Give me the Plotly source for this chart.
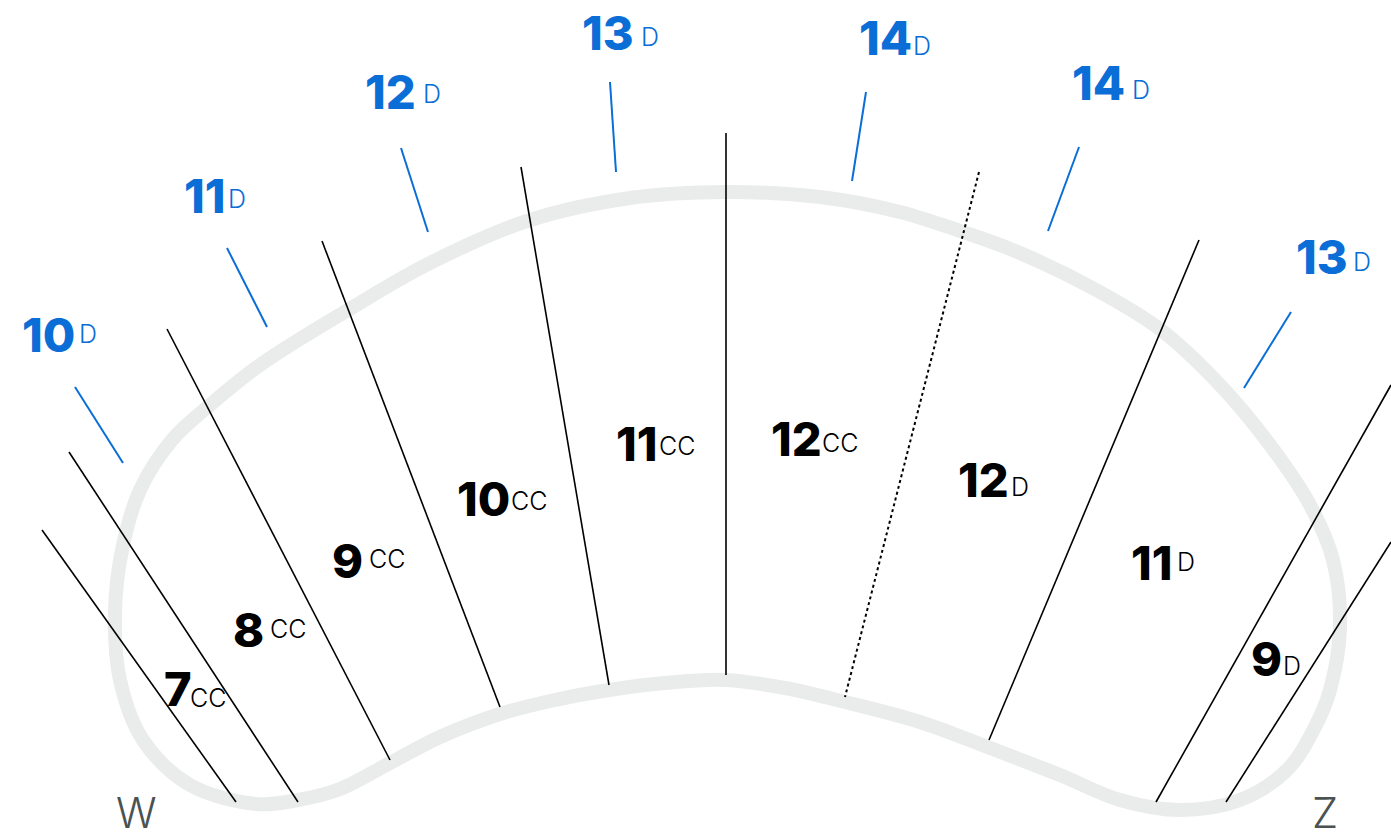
import plotly.graph_objects as go

W, H = 1391, 837

# Arch band centre-line (closed outline)
arch_x = [115, 122, 140, 172, 210, 260, 348, 430, 530, 630, 726, 820, 900, 963, 1020, 1100, 1161,
          1220, 1270, 1310, 1333, 1340, 1330, 1315, 1287, 1240, 1180, 1120, 1060, 990, 920, 845, 785,
          726, 665, 609, 555, 500, 440, 390, 340, 298, 257, 190, 143, 120, 115]
arch_y = [613, 550, 490, 440, 405, 365, 310, 263, 220, 198, 192, 197, 212, 232, 253, 292, 330,
          385, 445, 505, 560, 627, 690, 727, 770, 800, 810, 800, 775, 748, 722, 702, 688,
          680, 683, 690, 700, 714, 737, 763, 789, 800, 804, 785, 740, 680, 613]

# Black separator lines
sep_x0 = [42, 69, 167, 322, 521, 726, 979, 1199, 1391, 1391]
sep_y0 = [530, 452, 329, 241, 167, 133, 172, 240, 385, 542]
sep_x1 = [236, 298, 390, 500, 609, 726, 845, 989, 1156, 1226]
sep_y1 = [802, 802, 760, 707, 685, 675, 697, 740, 802, 802]
sep_dash = ["solid"] * 6 + ["dot"] + ["solid"] * 3

# Blue tick lines
tick_x0 = [75, 227, 401, 610, 866, 1079, 1291]
tick_y0 = [387, 248, 148, 82, 92, 147, 312]
tick_x1 = [123, 267, 428, 616, 852, 1048, 1244]
tick_y1 = [463, 327, 232, 172, 181, 231, 388]

# Blue outer labels
outer_vals = ["10", "11", "12", "13", "14", "14", "13"]
outer_nx = [48, 205, 390, 608, 885, 1098, 1322]
outer_ny = [334, 195, 91, 32, 37, 82, 256]
outer_unit = ["D"] * 7
outer_ux = [88, 237, 432, 650, 922, 1141, 1362]
outer_uy = [334, 199, 94, 37, 46, 90, 262]

# Black inner labels
inner_vals = ["7", "8", "9", "10", "11", "12", "12", "11", "9"]
inner_nx = [178, 248, 347, 483, 637, 796, 983, 1152, 1266]
inner_ny = [688, 629, 560, 498, 443, 438, 479, 562, 658]
inner_unit = ["CC"] * 6 + ["D"] * 3
inner_ux = [208, 288, 387, 529, 677, 840, 1020, 1186, 1292]
inner_uy = [698, 629, 559, 501, 446, 443, 487, 562, 666]

side_labels = ["W", "Z"]
side_x = [136, 1325]
side_y = [812, 812]

BLUE = "#0A6ED6"
GRAY_BAND = "#EAEBEB"
FONT = "Inter, 'Open Sans', sans-serif"

fig = go.Figure()

fig.add_trace(go.Scatter(x=arch_x, y=arch_y, mode="lines",
                         line=dict(color=GRAY_BAND, width=14, shape="spline", smoothing=1.0),
                         hoverinfo="skip", showlegend=False))

for x0, y0, x1, y1, d in zip(sep_x0, sep_y0, sep_x1, sep_y1, sep_dash):
    fig.add_trace(go.Scatter(x=[x0, x1], y=[y0, y1], mode="lines",
                             line=dict(color="#000000", width=1.6 if d == "solid" else 2, dash=d),
                             hoverinfo="skip", showlegend=False))

for x0, y0, x1, y1 in zip(tick_x0, tick_y0, tick_x1, tick_y1):
    fig.add_trace(go.Scatter(x=[x0, x1], y=[y0, y1], mode="lines",
                             line=dict(color=BLUE, width=2),
                             hoverinfo="skip", showlegend=False))

annotations = []
for v, x, y in zip(outer_vals, outer_nx, outer_ny):
    annotations.append(dict(x=x, y=y, text=v, showarrow=False, xanchor="center", yanchor="middle",
                            font=dict(family=FONT, size=47, color=BLUE, weight=800)))
for u, x, y in zip(outer_unit, outer_ux, outer_uy):
    annotations.append(dict(x=x, y=y, text=u, showarrow=False, xanchor="center", yanchor="middle",
                            font=dict(family=FONT, size=25, color=BLUE, weight=300)))
for v, x, y in zip(inner_vals, inner_nx, inner_ny):
    annotations.append(dict(x=x, y=y, text=v, showarrow=False, xanchor="center", yanchor="middle",
                            font=dict(family=FONT, size=47, color="#000000", weight=800)))
for u, x, y in zip(inner_unit, inner_ux, inner_uy):
    annotations.append(dict(x=x, y=y, text=u, showarrow=False, xanchor="center", yanchor="middle",
                            font=dict(family=FONT, size=25, color="#000000", weight=300)))
for t, x, y in zip(side_labels, side_x, side_y):
    annotations.append(dict(x=x, y=y, text=t, showarrow=False, xanchor="center", yanchor="middle",
                            font=dict(family=FONT, size=42, color="#4A5252", weight=300)))

fig.update_layout(
    width=W, height=H,
    margin=dict(l=0, r=0, t=0, b=0),
    paper_bgcolor="white", plot_bgcolor="white",
    xaxis=dict(range=[0, W], visible=False, showgrid=False, zeroline=False, fixedrange=True),
    yaxis=dict(range=[H, 0], visible=False, showgrid=False, zeroline=False, fixedrange=True),
    annotations=annotations,
    showlegend=False,
)

fig.write_html("out.html",
               config={"displayModeBar": False},
               post_script="document.body.style.margin='0';document.body.style.overflow='hidden';")
